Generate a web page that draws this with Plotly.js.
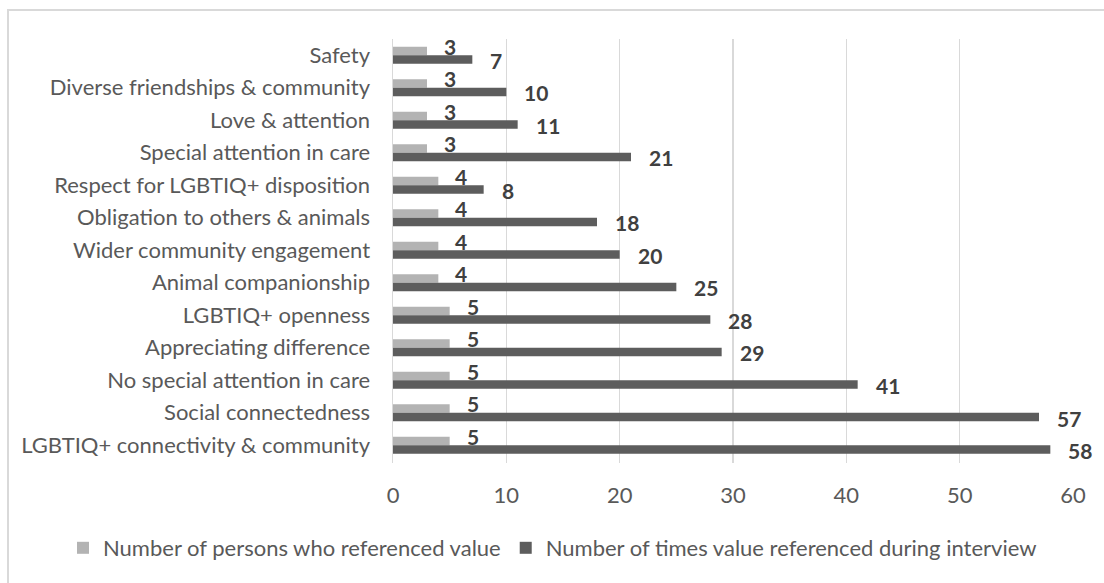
<!DOCTYPE html>
<html>
<head>
<meta charset="utf-8">
<script src="https://cdn.plot.ly/plotly-3.0.1.min.js"></script>
<style>
html,body{margin:0;padding:0;background:#fff;overflow:hidden;}
#frame{position:absolute;left:7px;top:9px;width:1200px;height:700px;border:2px solid #d9d9d9;box-sizing:border-box;}
#chart{position:absolute;left:0;top:0;width:1104px;height:583px;}
</style>
</head>
<body>
<div id="frame"></div>
<div id="chart"></div>
<script>
const categories = [
  "Safety",
  "Diverse friendships & community",
  "Love & attention",
  "Special attention in care",
  "Respect for LGBTIQ+ disposition",
  "Obligation to others & animals",
  "Wider community engagement",
  "Animal companionship",
  "LGBTIQ+ openness",
  "Appreciating difference",
  "No special attention in care",
  "Social connectedness",
  "LGBTIQ+ connectivity & community"
];
const persons = [3, 3, 3, 3, 4, 4, 4, 4, 5, 5, 5, 5, 5];
const times = [7, 10, 11, 21, 8, 18, 20, 25, 28, 29, 41, 57, 58];
const seriesNames = [
  "Number of persons who referenced value",
  "Number of times value referenced during interview"
];
const xTicks = [0, 10, 20, 30, 40, 50, 60];

const FONT = "Lato, sans-serif";
const TXT = "#595959";
const LABEL = "#404040";
const LIGHT = "#b3b3b3";
const DARK = "#5d5d5d";

const traces = [
  {type:"bar", orientation:"h", name:seriesNames[0], y:categories, x:persons,
   marker:{color:LIGHT}, hoverinfo:"none"},
  {type:"bar", orientation:"h", name:seriesNames[1], y:categories, x:times,
   marker:{color:DARK}, hoverinfo:"none"}
];

const bargap = 0.48;
const half = (1 - bargap) / 4;
const annotations = [];
categories.forEach((c, i) => {
  annotations.push({x:persons[i], y:i - half, xref:"x", yref:"y", text:String(persons[i]),
    showarrow:false, xanchor:"left", yanchor:"middle", xshift:15, yshift:5,
    font:{family:FONT, size:21, color:LABEL, weight:"bold"}});
  annotations.push({x:times[i], y:i + half, xref:"x", yref:"y", text:String(times[i]),
    showarrow:false, xanchor:"left", yanchor:"middle", xshift:16, yshift:-1,
    font:{family:FONT, size:21, color:LABEL, weight:"bold"}});
});

const layout = {
  width:1104, height:583,
  margin:{l:393, r:31, t:39, b:120, pad:0, autoexpand:false},
  paper_bgcolor:"rgba(0,0,0,0)", plot_bgcolor:"rgba(0,0,0,0)",
  font:{family:FONT, size:22, color:TXT},
  barmode:"group", bargap:bargap, bargroupgap:0,
  showlegend:true,
  legend:{orientation:"h", x:(63-393)/680, xanchor:"left",
    y:(463-548)/424, yanchor:"middle", itemwidth:30,
    font:{family:FONT, size:22, color:TXT}, traceorder:"normal"},
  xaxis:{range:[0,60], tickvals:xTicks, ticktext:xTicks.map(String), showgrid:true,
    gridcolor:"#d9d9d9", gridwidth:1.5, zeroline:false, showline:false, ticks:"",
    ticklabelstandoff:17, tickfont:{family:FONT, size:22, color:TXT}, fixedrange:true},
  yaxis:{type:"category", autorange:"reversed", showgrid:false, zeroline:false,
    showline:true, linecolor:"#d9d9d9", linewidth:1.5, ticks:"", ticklabelstandoff:17,
    tickfont:{family:FONT, size:22, color:TXT}, fixedrange:true},
  annotations:annotations
};

Plotly.newPlot("chart", traces, layout, {staticPlot:true, displayModeBar:false});
</script>
</body>
</html>
